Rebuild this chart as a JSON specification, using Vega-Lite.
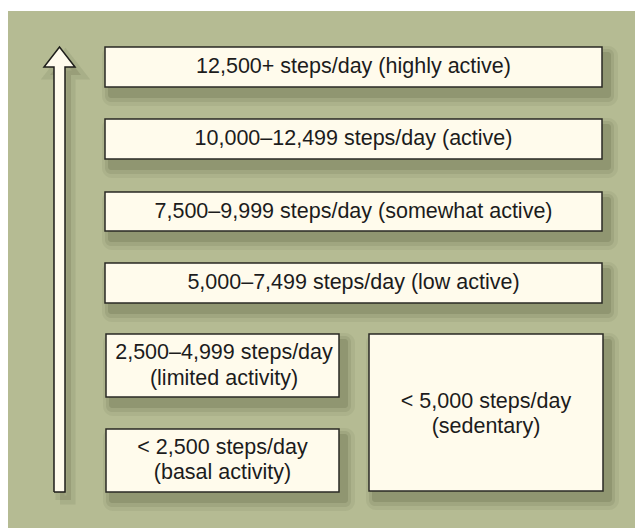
{
  "$schema": "https://vega.github.io/schema/vega-lite/v6.json",
  "width": 635,
  "height": 528,
  "autosize": {"type": "fit", "contains": "padding"},
  "padding": 0,
  "background": "#ffffff",
  "config": {"view": {"stroke": null}},
  "datasets": {
    "panel": [{"x": 8, "x2": 635, "y": 11, "y2": 528}],
    "boxes": [
      {"x": 105, "x2": 602, "y": 47, "y2": 87, "cx": 353.5, "cy": 67, "lines": 1, "label": "12,500+ steps/day (highly active)"},
      {"x": 105, "x2": 602, "y": 119, "y2": 159, "cx": 353.5, "cy": 139, "lines": 1, "label": "10,000–12,499 steps/day (active)"},
      {"x": 105, "x2": 602, "y": 192, "y2": 231, "cx": 353.5, "cy": 211.5, "lines": 1, "label": "7,500–9,999 steps/day (somewhat active)"},
      {"x": 105, "x2": 602, "y": 263, "y2": 303, "cx": 353.5, "cy": 283, "lines": 1, "label": "5,000–7,499 steps/day (low active)"},
      {"x": 106, "x2": 339, "y": 334, "y2": 397, "cx": 224, "cy": 366, "lines": 2, "label": "2,500–4,999 steps/day\n(limited activity)"},
      {"x": 106, "x2": 339, "y": 429, "y2": 492, "cx": 222.5, "cy": 460.5, "lines": 2, "label": "< 2,500 steps/day\n(basal activity)"},
      {"x": 369, "x2": 603, "y": 334, "y2": 491, "cx": 486, "cy": 414.5, "lines": 2, "label": "< 5,000 steps/day\n(sedentary)"}
    ],
    "arrow": [
      {"i": 0, "x": 54, "y": 492},
      {"i": 1, "x": 54, "y": 67},
      {"i": 2, "x": 44, "y": 67},
      {"i": 3, "x": 59.5, "y": 47},
      {"i": 4, "x": 75, "y": 67},
      {"i": 5, "x": 65, "y": 67},
      {"i": 6, "x": 65, "y": 492},
      {"i": 7, "x": 54, "y": 492}
    ]
  },
  "layer": [
    {
      "data": {"name": "panel"},
      "mark": {"type": "rect", "fill": "#b5bb93"},
      "encoding": {
        "x": {"field": "x", "type": "quantitative", "scale": {"domain": [0, 635], "nice": false, "zero": false}, "axis": null},
        "x2": {"field": "x2"},
        "y": {"field": "y", "type": "quantitative", "scale": {"domain": [0, 528], "nice": false, "zero": false, "reverse": true}, "axis": null},
        "y2": {"field": "y2"}
      }
    },
    {
      "data": {"name": "boxes"},
      "mark": {"type": "rect", "fill": "#3e4326", "opacity": 0.07, "cornerRadius": 10, "xOffset": -3, "x2Offset": 16, "yOffset": -1, "y2Offset": 19},
      "encoding": {
        "x": {"field": "x", "type": "quantitative"}, "x2": {"field": "x2"},
        "y": {"field": "y", "type": "quantitative"}, "y2": {"field": "y2"}
      }
    },
    {
      "data": {"name": "boxes"},
      "mark": {"type": "rect", "fill": "#3e4326", "opacity": 0.1, "cornerRadius": 6, "xOffset": 0, "x2Offset": 12, "yOffset": 2, "y2Offset": 15},
      "encoding": {
        "x": {"field": "x", "type": "quantitative"}, "x2": {"field": "x2"},
        "y": {"field": "y", "type": "quantitative"}, "y2": {"field": "y2"}
      }
    },
    {
      "data": {"name": "boxes"},
      "mark": {"type": "rect", "fill": "#3e4326", "opacity": 0.16, "cornerRadius": 3, "xOffset": 3, "x2Offset": 9, "yOffset": 5, "y2Offset": 11},
      "encoding": {
        "x": {"field": "x", "type": "quantitative"}, "x2": {"field": "x2"},
        "y": {"field": "y", "type": "quantitative"}, "y2": {"field": "y2"}
      }
    },
    {
      "data": {"name": "arrow"},
      "mark": {"type": "line", "fill": "#3e4326", "fillOpacity": 0.14, "stroke": "#3e4326", "strokeOpacity": 0.1, "strokeWidth": 9, "xOffset": 6, "yOffset": 8},
      "encoding": {
        "x": {"field": "x", "type": "quantitative"},
        "y": {"field": "y", "type": "quantitative"},
        "order": {"field": "i"}
      }
    },
    {
      "data": {"name": "arrow"},
      "mark": {"type": "line", "fill": "#fffbec", "stroke": "#1e1e1a", "strokeWidth": 1.5, "strokeJoin": "miter"},
      "encoding": {
        "x": {"field": "x", "type": "quantitative"},
        "y": {"field": "y", "type": "quantitative"},
        "order": {"field": "i"}
      }
    },
    {
      "data": {"name": "boxes"},
      "mark": {"type": "rect", "fill": "#fffbec", "stroke": "#2a2a25", "strokeWidth": 1.5},
      "encoding": {
        "x": {"field": "x", "type": "quantitative"}, "x2": {"field": "x2"},
        "y": {"field": "y", "type": "quantitative"}, "y2": {"field": "y2"}
      }
    },
    {
      "data": {"name": "boxes"},
      "transform": [{"filter": "datum.lines == 1"}],
      "mark": {"type": "text", "font": "Liberation Sans", "fontSize": 21.5, "color": "#1c1c1c", "align": "center", "baseline": "middle"},
      "encoding": {
        "x": {"field": "cx", "type": "quantitative"},
        "y": {"field": "cy", "type": "quantitative"},
        "text": {"field": "label"}
      }
    },
    {
      "data": {"name": "boxes"},
      "transform": [{"filter": "datum.lines == 2"}],
      "mark": {"type": "text", "font": "Liberation Sans", "fontSize": 21.5, "color": "#1c1c1c", "align": "center", "baseline": "middle", "lineBreak": "\n", "lineHeight": 25.5, "dy": -12.75},
      "encoding": {
        "x": {"field": "cx", "type": "quantitative"},
        "y": {"field": "cy", "type": "quantitative"},
        "text": {"field": "label"}
      }
    }
  ]
}
